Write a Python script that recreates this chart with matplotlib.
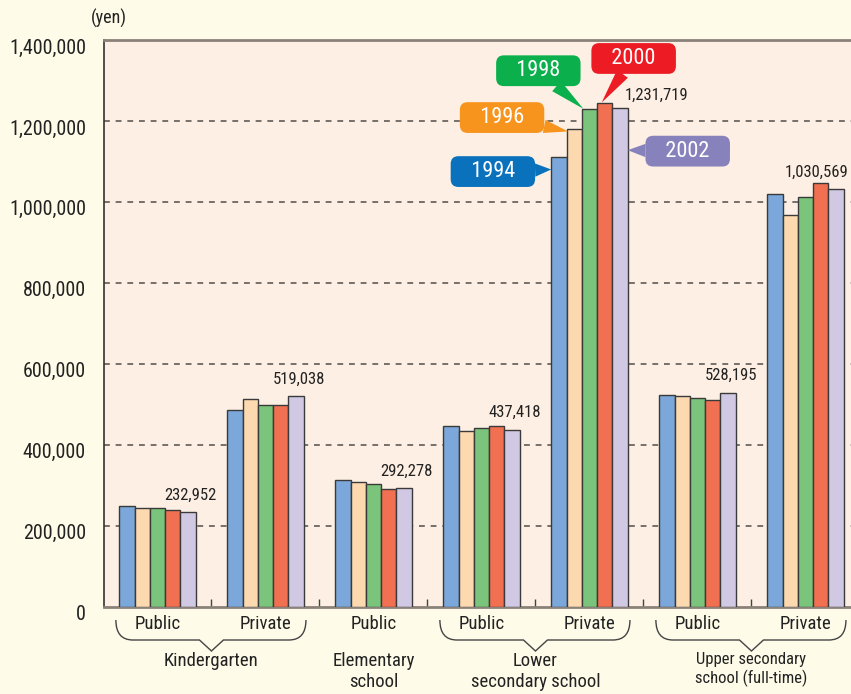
import numpy as np
import matplotlib
matplotlib.use("Agg")
import matplotlib.pyplot as plt
from matplotlib import font_manager
from matplotlib.path import Path
from matplotlib.patches import PathPatch
from matplotlib.transforms import blended_transform_factory, ScaledTranslation

# pick a narrow sans face if there is one
names = {f.name for f in font_manager.fontManager.ttflist}
for cand in ["Liberation Sans Narrow", "Roboto Condensed", "Liberation Sans"]:
    if cand in names:
        FONT = cand
        break
else:
    FONT = "DejaVu Sans"
plt.rcParams["font.family"] = [FONT, "DejaVu Sans"]

years = [1994, 1996, 1998, 2000, 2002]
sub_labels = ["Public", "Private", "Public", "Public", "Private", "Public", "Private"]
v1994 = [249000, 485000, 312000, 445500, 1110000, 522000, 1019000]
v1996 = [243000, 512000, 307000, 432500, 1181000, 521000, 968000]
v1998 = [244500, 498000, 302000, 440500, 1230000, 516500, 1012000]
v2000 = [238000, 497500, 289500, 445500, 1245500, 511000, 1047000]
v2002 = [232952, 519038, 292278, 437418, 1231719, 528195, 1030569]
values = [v1994, v1996, v1998, v2000, v2002]

schools = ["Kindergarten", "Elementary\nschool", "Lower\nsecondary school",
           "Upper secondary\nschool (full-time)"]
school_groups = [(0, 1), (2,), (3, 4), (5, 6)]

bar_colors = ["#7ba7da", "#fdd9b0", "#7ac47b", "#f27052", "#d1c8e3"]
tag_colors = ["#0a72bd", "#f7941e", "#0bb04c", "#ed1c24", "#8882bc"]

W, H = 851, 694
fig = plt.figure(figsize=(W / 100, H / 100), dpi=100, facecolor="#fefbe8")
ax = fig.add_axes([104 / W, 1 - 606.5 / H, 1 - 104 / W, 566.5 / H])
ax.set_facecolor("#fdefe3")

bw = 15.3 / 108
x = np.arange(len(sub_labels))
for i, vals in enumerate(values):
    ax.bar(x + (i - 2) * bw, vals, width=bw, color=bar_colors[i],
           edgecolor="#3a3a3a", linewidth=1.0, zorder=3)

ax.set_xlim(-0.495, -0.495 + 747 / 108)
ax.set_ylim(0, 1400000)
ax.set_yticks(np.arange(0, 1400001, 200000))
ax.set_yticklabels([f"{t:,}" for t in range(0, 1400001, 200000)], fontsize=14.5, color="#222222")
ax.tick_params(axis="y", length=0, pad=13)
for lab in ax.get_yticklabels():
    lab.set_transform(lab.get_transform() + ScaledTranslation(0, -0.06, fig.dpi_scale_trans))
ax.set_xticks([])
ax.set_xticks(np.arange(0.5, 6.5, 1), minor=True)
ax.tick_params(axis="x", which="minor", direction="in", length=6, color="#444444", width=1)
ax.tick_params(axis="x", which="minor", labelbottom=False)

for yv in range(200000, 1400000, 200000):
    ax.axhline(yv, color="#77706a", lw=1.4, ls=(0, (3, 3)), zorder=1)
ax.spines["right"].set_visible(False)
ax.spines["top"].set_color("#8a8178")
ax.spines["top"].set_linewidth(2)
ax.spines["bottom"].set_color("#8a8178")
ax.spines["bottom"].set_linewidth(2)
ax.spines["left"].set_color("#333333")
ax.spines["left"].set_linewidth(1.2)

fig.text(109 / W, 1 - 18 / H, "(yen)", ha="center", va="center", fontsize=13, color="#222222")

# value labels above the 2002 bars
label_offsets = [(2, 7), (2, 7), (2, 7), (2, 7), (26, 4), (2, 7), (-14, 7)]
for xi, val, off in zip(x, v2002, label_offsets):
    ax.annotate(f"{val:,}", (xi + 2 * bw, val), xytext=off, textcoords="offset points",
                ha="center", va="bottom", fontsize=12, color="#222222", zorder=5)

# year callouts on the lower secondary private group
g = 4
tip_dx = [-0.5, -0.4, -0.4, -0.2, 0.5]
tip_dy = [-30000, -7000, 0, 0, -104000]
tag_offsets = [(-42, -1.5), (-47.5, 10), (-32.4, 27.4), (23, 31.7), (43.2, -0.7)]
for i, yr in enumerate(years):
    tip = (g + (i - 2) * bw + tip_dx[i] * bw, values[i][g] + tip_dy[i])
    ax.annotate(f"   {yr}   ", tip, xytext=tag_offsets[i], textcoords="offset points",
                ha="center", va="center", fontsize=16, color="white", zorder=6,
                bbox=dict(boxstyle="round,pad=0.22,rounding_size=0.35", fc=tag_colors[i], ec="none"),
                arrowprops=dict(arrowstyle="wedge,tail_width=0.6,shrink_factor=0.5",
                                fc=tag_colors[i], ec="none", shrinkA=0, shrinkB=0))

# labels and braces below the axis
tr = blended_transform_factory(ax.transData, ax.transAxes)


def fy(py):
    return (606.5 - py) / 566.5


for xi, lab in zip(x, sub_labels):
    ax.text(xi, fy(624), lab, transform=tr, ha="center", va="center", fontsize=13.5,
            color="#222222", clip_on=False)

for name, grp in zip(schools, school_groups):
    cx = np.mean(grp)
    fs = 12 if name.startswith("Upper") else 13.5
    ax.text(cx, fy(652), name, transform=tr, ha="center", va="top", fontsize=fs,
            color="#222222", linespacing=1.2, clip_on=False)
    if len(grp) == 2:
        x0, x1 = grp[0] - 0.385, grp[1] + 0.375
        c, v = 17 / 108, 12 / 108
        verts = [(x0, fy(620)), (x0, fy(640)), (x0 + c, fy(640)),
                 (cx - v, fy(640)), (cx, fy(651)), (cx + v, fy(640)),
                 (x1 - c, fy(640)), (x1, fy(640)), (x1, fy(620))]
        codes = [Path.MOVETO, Path.CURVE3, Path.CURVE3, Path.LINETO, Path.LINETO,
                 Path.LINETO, Path.LINETO, Path.CURVE3, Path.CURVE3]
        ax.add_patch(PathPatch(Path(verts, codes), transform=tr, fc="none",
                               ec="#444444", lw=1.0, clip_on=False))

fig.savefig("out.png", dpi=100, facecolor=fig.get_facecolor())
